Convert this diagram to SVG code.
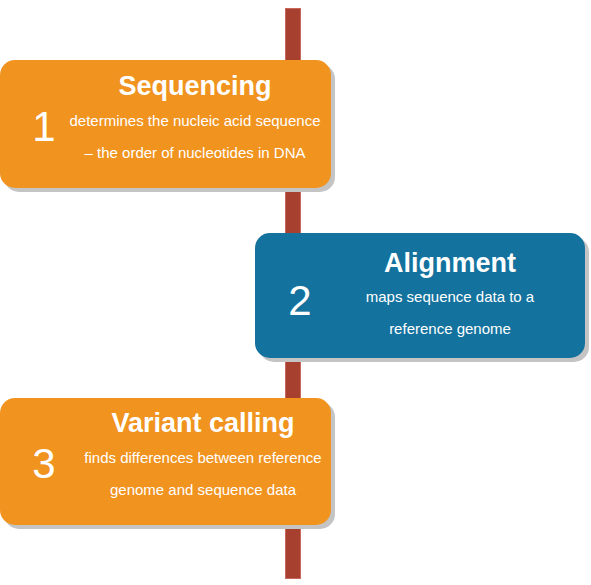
<svg xmlns="http://www.w3.org/2000/svg" width="591" height="585" viewBox="0 0 591 585">
<defs>
<style>
.shadow{fill:#c4c4c4}
.orange{fill:#f0931f}
.blue{fill:#13729e}
.title{font-family:"Liberation Sans",Arial,sans-serif;font-weight:bold;font-size:27px;fill:#fff;text-anchor:middle}
.num{font-family:"Liberation Sans",Arial,sans-serif;font-size:42px;fill:#fff;text-anchor:middle}
.desc{font-family:"Liberation Sans",Arial,sans-serif;font-size:15px;fill:#fff;text-anchor:middle}
</style>
</defs>
<rect width="591" height="585" fill="#fff"/>
<g id="connectors">
<rect x="285.5" y="8.5" width="15" height="570" fill="#a8402f" stroke="#c8675a" stroke-width="1"/>
</g>
<g id="node1">
<rect class="shadow" x="4" y="64" width="331" height="128" rx="15"/>
<rect class="orange" x="0" y="60" width="331" height="128" rx="15"/>
<text class="title" x="195" y="95">Sequencing</text>
<text class="num" x="44" y="141">1</text>
<text class="desc" x="195" y="126">determines the nucleic acid sequence</text>
<text class="desc" x="195" y="158">– the order of nucleotides in DNA</text>
</g>
<g id="node2">
<rect class="shadow" x="259" y="237" width="330" height="125" rx="15"/>
<rect class="blue" x="255" y="233" width="330" height="125" rx="15"/>
<text class="title" x="450" y="272">Alignment</text>
<text class="num" x="300" y="315">2</text>
<text class="desc" x="450" y="302">maps sequence data to a</text>
<text class="desc" x="450" y="334">reference genome</text>
</g>
<g id="node3">
<rect class="shadow" x="4" y="402" width="331" height="127" rx="15"/>
<rect class="orange" x="0" y="398" width="331" height="127" rx="15"/>
<text class="title" x="203" y="432">Variant calling</text>
<text class="num" x="44" y="478">3</text>
<text class="desc" x="203" y="463">finds differences between reference</text>
<text class="desc" x="203" y="495">genome and sequence data</text>
</g>
</svg>
